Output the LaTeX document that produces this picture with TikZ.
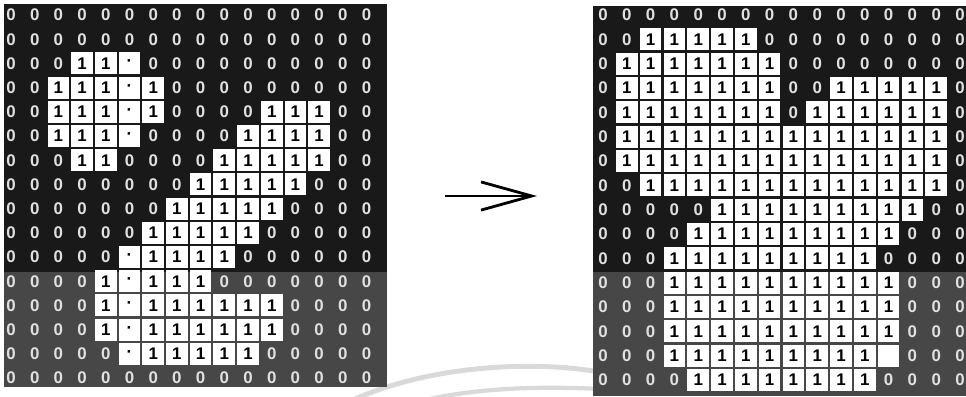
\documentclass[tikz,border=0pt]{standalone}
\usepackage{fontspec}
\setmainfont{Liberation Sans}
\usetikzlibrary{arrows.meta}
\colorlet{scandark}{black!90}
\colorlet{scangray}{black!72}
\colorlet{scanarc}{black!15}
\colorlet{zerotext}{white!88!black}

\tikzset{
  zerocell/.style={text=zerotext, inner sep=0pt, font=\fontsize{12}{12}\selectfont\bfseries},
  onecell/.style={fill=white, inner sep=0pt, minimum width=15.4pt, minimum height=15.7pt,
    font=\fontsize{12}{12}\selectfont\bfseries},
}

\begin{document}
\begin{tikzpicture}[x=0.025cm, y=-0.025cm, >=Stealth]
    \useasboundingbox (0,0) rectangle (966,396);

    % Scan arcs
    \draw[scanarc, line width=3.5pt] (355,399) .. controls (430,366) and (530,360) .. (600,372);
    \draw[scanarc, line width=3pt] (430,399) .. controls (480,388) and (540,386) .. (600,389);

    % Backgrounds
    \fill[scandark] (4,4) rectangle (387,387);
    \fill[scangray] (4,272) rectangle (387,387);
    \fill[scandark] (593,6) rectangle (966,396);
    \fill[scangray] (593,272) rectangle (966,396);

    % Left grid (0 zero, 1 one, 2 dot)
    \foreach \rowdata [count=\r] in {
      {0,0,0,0,0,0,0,0,0,0,0,0,0,0,0,0},
      {0,0,0,0,0,0,0,0,0,0,0,0,0,0,0,0},
      {0,0,0,1,1,2,0,0,0,0,0,0,0,0,0,0},
      {0,0,1,1,1,2,1,0,0,0,0,0,0,0,0,0},
      {0,0,1,1,1,2,1,0,0,0,0,1,1,1,0,0},
      {0,0,1,1,1,2,0,0,0,0,1,1,1,1,0,0},
      {0,0,0,1,1,0,0,0,0,1,1,1,1,1,0,0},
      {0,0,0,0,0,0,0,0,1,1,1,1,1,0,0,0},
      {0,0,0,0,0,0,0,1,1,1,1,1,0,0,0,0},
      {0,0,0,0,0,0,1,1,1,1,1,0,0,0,0,0},
      {0,0,0,0,0,2,1,1,1,1,0,0,0,0,0,0},
      {0,0,0,0,1,2,1,1,1,0,0,0,0,0,0,0},
      {0,0,0,0,1,2,1,1,1,1,1,1,0,0,0,0},
      {0,0,0,0,1,2,1,1,1,1,1,1,0,0,0,0},
      {0,0,0,0,0,2,1,1,1,1,1,0,0,0,0,0},
      {0,0,0,0,0,0,0,0,0,0,0,0,0,0,0,0}}
      \foreach \v [count=\c] in \rowdata {
        \ifcase\v
          \node[zerocell] (L-\r-\c) at ({11+(\c-1)*23.7},{15+(\r-1)*24.2}) {0};
        \or
          \node[onecell] (L-\r-\c) at ({11+(\c-1)*23.7},{15+(\r-1)*24.2}) {1};
        \or
          \node[onecell] (L-\r-\c) at ({11+(\c-1)*23.7},{15+(\r-1)*24.2}) {·};
        \fi
      };

    % Right grid (0 zero, 1 one, 3 blank)
    \foreach \rowdata [count=\r] in {
      {0,0,0,0,0,0,0,0,0,0,0,0,0,0,0,0},
      {0,0,1,1,1,1,1,0,0,0,0,0,0,0,0,0},
      {0,1,1,1,1,1,1,1,0,0,0,0,0,0,0,0},
      {0,1,1,1,1,1,1,1,0,0,1,1,1,1,1,0},
      {0,1,1,1,1,1,1,1,0,1,1,1,1,1,1,0},
      {0,1,1,1,1,1,1,1,1,1,1,1,1,1,1,0},
      {0,1,1,1,1,1,1,1,1,1,1,1,1,1,1,0},
      {0,0,1,1,1,1,1,1,1,1,1,1,1,1,1,0},
      {0,0,0,0,0,1,1,1,1,1,1,1,1,1,0,0},
      {0,0,0,0,1,1,1,1,1,1,1,1,1,0,0,0},
      {0,0,0,1,1,1,1,1,1,1,1,1,0,0,0,0},
      {0,0,0,1,1,1,1,1,1,1,1,1,1,0,0,0},
      {0,0,0,1,1,1,1,1,1,1,1,1,1,0,0,0},
      {0,0,0,1,1,1,1,1,1,1,1,1,1,0,0,0},
      {0,0,0,1,1,1,1,1,1,1,1,1,3,0,0,0},
      {0,0,0,0,1,1,1,1,1,1,1,1,0,0,0,0}}
      \foreach \v [count=\c] in \rowdata {
        \ifcase\v
          \node[zerocell] (R-\r-\c) at ({603+(\c-1)*23.8},{15+(\r-1)*24.33}) {0};
        \or
          \node[onecell] (R-\r-\c) at ({603+(\c-1)*23.8},{15+(\r-1)*24.33}) {1};
        \or
        \or
          \node[onecell] (R-\r-\c) at ({603+(\c-1)*23.8},{15+(\r-1)*24.33}) {};
        \fi
      };

    % Arrow
    \coordinate (arrowtail) at (445,196);
    \coordinate (arrowtip) at (537,196);
    \draw[line width=2pt, -{Straight Barb[length=36pt, width=20pt]}] (arrowtail) -- (arrowtip);
\end{tikzpicture}
\end{document}
